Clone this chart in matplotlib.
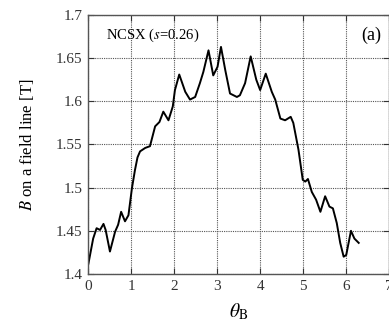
import numpy as np
import matplotlib
matplotlib.use("Agg")
import matplotlib.pyplot as plt
from matplotlib.ticker import FormatStrFormatter

plt.rcParams["font.family"] = ["Liberation Serif", "DejaVu Serif"]
plt.rcParams["mathtext.fontset"] = "stix"

# B along the field line vs Boozer angle
theta = [0.01, 0.12, 0.20, 0.28, 0.36, 0.41, 0.51, 0.63, 0.70, 0.77,
         0.86, 0.94, 1.02, 1.09, 1.15, 1.21, 1.33, 1.44, 1.56, 1.66,
         1.75, 1.87, 1.97, 2.02, 2.12, 2.26, 2.37, 2.49, 2.60, 2.68,
         2.80, 2.91, 3.01, 3.09, 3.19, 3.30, 3.46, 3.53, 3.65, 3.78,
         3.91, 4.00, 4.13, 4.27, 4.35, 4.47, 4.58, 4.71, 4.77, 4.89,
         4.99, 5.05, 5.11, 5.20, 5.30, 5.40, 5.51, 5.61, 5.69, 5.78,
         5.86, 5.94, 6.00, 6.11, 6.19, 6.29]
B = [1.412, 1.441, 1.453, 1.451, 1.458, 1.451, 1.426, 1.449, 1.457, 1.472,
     1.461, 1.468, 1.499, 1.520, 1.535, 1.542, 1.546, 1.548, 1.571, 1.576,
     1.588, 1.578, 1.594, 1.613, 1.631, 1.611, 1.602, 1.605, 1.621, 1.634,
     1.659, 1.630, 1.640, 1.663, 1.636, 1.609, 1.605, 1.607, 1.621, 1.652,
     1.625, 1.613, 1.632, 1.611, 1.602, 1.580, 1.578, 1.582, 1.575, 1.544,
     1.509, 1.507, 1.510, 1.495, 1.486, 1.472, 1.490, 1.478, 1.476, 1.459,
     1.436, 1.420, 1.422, 1.450, 1.441, 1.436]

xticks = [0, 1, 2, 3, 4, 5, 6, 7]
yticks = [1.4, 1.45, 1.5, 1.55, 1.6, 1.65, 1.7]

fig = plt.figure(figsize=(3.89, 3.25), dpi=100)
ax = fig.add_axes([0.2262, 0.157, 0.7745, 0.797])

ax.plot(theta, B, color="black", linewidth=1.4)

ax.set_xlim(0, 7)
ax.set_ylim(1.4, 1.7)
ax.set_xticks(xticks)
ax.set_yticks(yticks)
ax.yaxis.set_major_formatter(FormatStrFormatter("%g"))
ax.tick_params(direction="in", top=True, right=True, length=4,
               labelsize=11, colors="#333333", pad=4)
ax.grid(True, linestyle=(0, (1, 1)), color="#555555", linewidth=0.8)
for s in ax.spines.values():
    s.set_color("#555555")
    s.set_linewidth(1.0)

ax.set_xlabel(r"$\theta_{\rm B}$", fontsize=14, labelpad=6)
ax.set_ylabel(r"$B$ on a field line [T]", fontsize=12, labelpad=14)

ax.text(0.06, 0.955, r"NCSX ($s$=0.26)", transform=ax.transAxes,
        fontsize=10.5, va="top", ha="left")
ax.text(0.975, 0.955, "(a)", transform=ax.transAxes,
        fontsize=13, va="top", ha="right")

fig.savefig("out.png", dpi=100)
